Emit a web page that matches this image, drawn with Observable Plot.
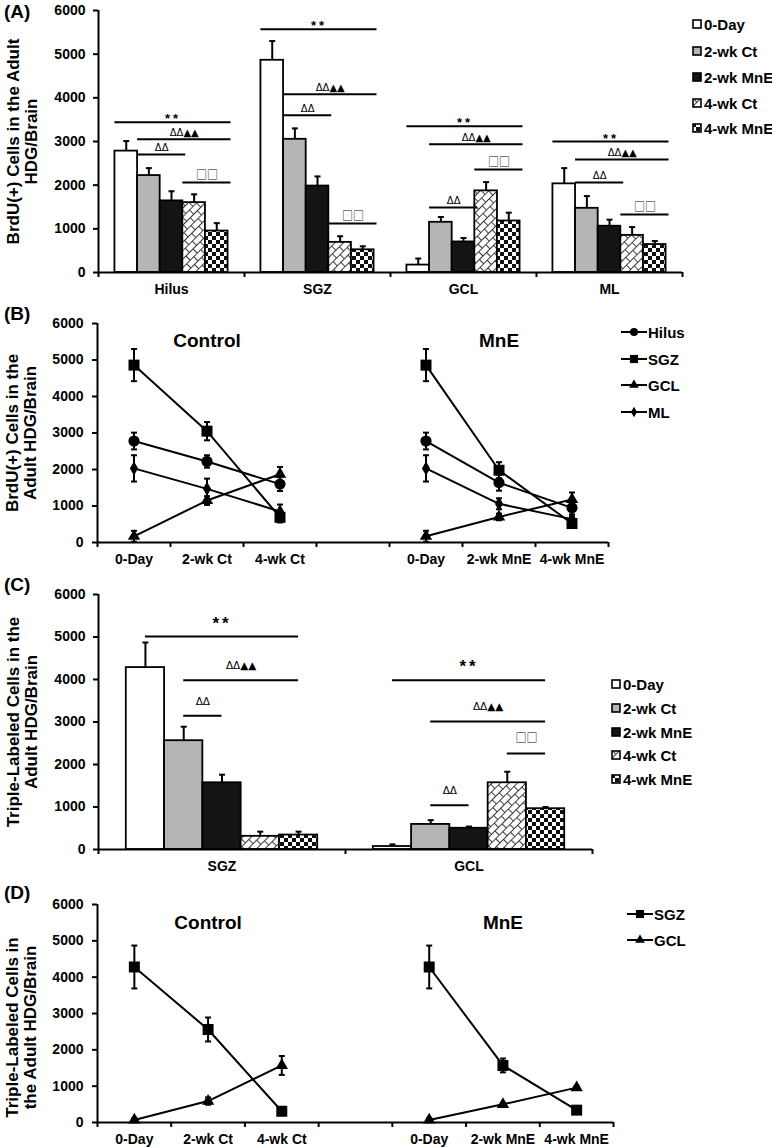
<!DOCTYPE html>
<html><head><meta charset="utf-8">
<script src="https://cdn.jsdelivr.net/npm/d3@7"></script>
<script src="https://cdn.jsdelivr.net/npm/@observablehq/plot@0.6"></script>
<style>
body{margin:0;background:#fff;}
#root{position:relative;width:772px;height:1148px;overflow:hidden;font-family:"Liberation Sans",Arial,sans-serif;font-weight:bold;color:#000;}
.panel{position:absolute;left:0;}
.plabel{position:absolute;left:4px;font-size:19px;line-height:20px;}
.litem{position:absolute;display:flex;align-items:center;white-space:nowrap;height:18px;font-size:15px;}
.litem svg{display:block;}
</style></head><body>
<svg width="0" height="0" style="position:absolute">
<defs>
<pattern id="hatch" width="10" height="12" patternUnits="userSpaceOnUse" patternTransform="rotate(-45)">
<rect width="10" height="12" fill="#fff"/>
<path d="M0,0.5H10M0,6.5H10M0.5,0.5V6.5M5.5,6.5V12.5" stroke="#3a3a3a" stroke-width="1" fill="none"/>
</pattern>
<pattern id="checker" width="8" height="8" patternUnits="userSpaceOnUse">
<rect width="8" height="8" fill="#fff"/><rect width="4" height="4" fill="#111"/><rect x="4" y="4" width="4" height="4" fill="#111"/>
</pattern>
</defs></svg>
<div id="root"></div>
<script>
// ---------- data ----------
const regionsA = ["Hilus", "SGZ", "GCL", "ML"];
const regionsC = ["SGZ", "GCL"];
const conditions = ["0-Day", "2-wk Ct", "2-wk MnE", "4-wk Ct", "4-wk MnE"];
const lineLabels = ["0-Day", "2-wk Ct", "4-wk Ct", "", "0-Day", "2-wk MnE", "4-wk MnE"];
const armNames = ["Control", "MnE"];
const controlIdx = [0, 1, 3];
const mneIdx = [0, 2, 4];
const yTicks = [0, 1000, 2000, 3000, 4000, 5000, 6000];

// BrdU(+) cells (panels A, B)
const hilusMean = [2780, 2220, 1640, 1600, 950];
const hilusSem  = [230, 170, 220, 190, 180];
const sgzMean   = [4860, 3050, 1980, 690, 520];
const sgzSem    = [440, 250, 220, 140, 80];
const gclMean   = [170, 1150, 700, 1870, 1180];
const gclSem    = [150, 120, 90, 200, 190];
const mlMean    = [2030, 1470, 1060, 850, 640];
const mlSem     = [360, 280, 150, 190, 80];

// Triple-labeled cells (panels C, D)
const tripleSgzMean = [4280, 2560, 1570, 310, 340];
const tripleSgzSem  = [590, 330, 190, 110, 80];
const tripleGclMean = [70, 590, 500, 1570, 960];
const tripleGclSem  = [50, 100, 40, 260, 40];

// significance brackets: region, from condition, to condition, level, label
const sigA = [
  ["Hilus", 0, 4, 3440, "**"], ["Hilus", 1, 4, 3050, "ΔΔ▲▲"], ["Hilus", 1, 2, 2700, "ΔΔ"], ["Hilus", 3, 4, 2060, "□□"],
  ["SGZ", 0, 4, 5570, "**"], ["SGZ", 1, 4, 4080, "ΔΔ▲▲"], ["SGZ", 1, 2, 3600, "ΔΔ"], ["SGZ", 3, 4, 1120, "□□"],
  ["GCL", 0, 4, 3350, "**"], ["GCL", 1, 4, 2935, "ΔΔ▲▲"], ["GCL", 3, 4, 2360, "□□"], ["GCL", 1, 2, 1490, "ΔΔ"],
  ["ML", 0, 4, 3000, "**"], ["ML", 1, 4, 2590, "ΔΔ▲▲"], ["ML", 1, 2, 2060, "ΔΔ"], ["ML", 3, 4, 1330, "□□"]
];
const sigC = [
  ["SGZ", 0, 4, 5010, "**"], ["SGZ", 1, 4, 3980, "ΔΔ▲▲"], ["SGZ", 1, 2, 3150, "ΔΔ"],
  ["GCL", 0, 4, 3980, "**"], ["GCL", 1, 4, 3010, "ΔΔ▲▲"], ["GCL", 3, 4, 2260, "□□"], ["GCL", 1, 2, 1040, "ΔΔ"]
];

const titleA = "BrdU(+) Cells in the Adult\nHDG/Brain";
const titleB = "BrdU(+) Cells in the\nAdult HDG/Brain";
const titleC = "Triple-Labeled Cells in the\nAdult HDG/Brain";
const titleD = "Triple-Labeled Cells in\nthe Adult HDG/Brain";

// ---------- styles ----------
const barFills = ["#ffffff", "#b5b5b5", "#141414", "url(#hatch)", "url(#checker)"];
const FONT = '"Liberation Sans", Arial, sans-serif';
const BOXFONT = '"Noto Sans CJK SC", "DejaVu Sans", sans-serif';
const BW = 0.155;
const capSymbol = {draw(ctx, size) { const w = Math.sqrt(size / Math.PI); ctx.moveTo(-w, 0); ctx.lineTo(w, 0); }};
const svgStyle = {background: "transparent", overflow: "visible", fontFamily: FONT, fontWeight: "bold", color: "#000"};

function barPlot(o) {
  const n = conditions.length;
  const left = (g, j) => g + (1 - n * BW) / 2 + j * BW;
  const rows = [];
  o.regions.forEach((reg, g) => conditions.forEach((c, j) => {
    const x1 = left(g, j);
    rows.push({cond: c, x1, x2: x1 + BW, xc: x1 + BW / 2, mean: o.means[g][j], sem: o.sems[g][j]});
  }));
  const sig = o.sig.map(([reg, a, b, level, label]) => {
    const g = o.regions.indexOf(reg);
    const x1 = o.edge ? left(g, a) : left(g, a) + BW / 2;
    const x2 = o.edge ? left(g, b) + BW + 0.02 : left(g, b) + BW / 2;
    return {label, level, x1, x2, xm: (x1 + x2) / 2, kind: label === "**" ? "star" : label === "□□" ? "box" : "delta"};
  });
  return Plot.plot({
    width: 772, height: o.height,
    marginLeft: o.ml, marginRight: o.mr, marginTop: o.mt, marginBottom: o.mb,
    style: svgStyle,
    x: {domain: [0, o.regions.length]},
    y: {domain: [0, 6000]},
    color: {domain: conditions, range: barFills},
    marks: [
      Plot.rect(rows, {x1: "x1", x2: "x2", y1: 0, y2: "mean", fill: "cond", stroke: "#000", strokeWidth: 1.8}),
      Plot.ruleX(rows, {x: "xc", y1: "mean", y2: d => d.mean + d.sem, strokeWidth: 2}),
      Plot.dot(rows, {x: "xc", y: d => d.mean + d.sem, symbol: capSymbol, r: 3, stroke: "#000", fill: "none", strokeWidth: 2}),
      Plot.ruleY(sig, {y: "level", x1: "x1", x2: "x2", strokeWidth: 2}),
      Plot.text(sig.filter(d => d.kind === "star"), {x: "xm", y: "level", text: "label", dy: o.starDy, fontSize: o.starSize}),
      Plot.text(sig.filter(d => d.kind === "delta"), {x: "xm", y: "level", text: "label", dy: o.symDy, fontSize: o.symSize, fontFamily: "DejaVu Sans", fontWeight: "normal"}),
      Plot.text(sig.filter(d => d.kind === "box"), {x: "xm", y: "level", text: "label", dy: o.symDy, fontSize: o.boxSize, fontFamily: BOXFONT, fontWeight: "normal", fill: "#000"}),
      Plot.ruleY([0], {strokeWidth: 2}),
      Plot.ruleX([0], {strokeWidth: 2}),
      Plot.axisY({ticks: yTicks, tickFormat: d => String(d), tickSize: 5, tickPadding: 8, strokeWidth: 2, fontSize: 14, label: null}),
      Plot.axisX({ticks: d3.range(o.regions.length + 1), tickFormat: () => "", tickSize: 5, strokeWidth: 2, label: null}),
      Plot.axisX({ticks: o.regions.map((_, i) => i + 0.5), tickFormat: d => o.regions[Math.floor(d)], tickSize: 0, tickPadding: 12, fontSize: 14, label: null}),
      Plot.text([o.title], {frameAnchor: "left", textAnchor: "middle", dx: -76, dy: o.titleDy || 0, rotate: -90, fontSize: 17, lineHeight: 1.06})
    ]
  });
}

function linePlot(o) {
  const rows = [];
  const arms = [controlIdx, mneIdx];
  o.regions.forEach((reg, r) => arms.forEach((idx, a) => idx.forEach((j, k) => {
    rows.push({region: reg, arm: a, pos: a * (controlIdx.length + 1) + k, mean: o.means[r][j], sem: o.sems[r][j]});
  })));
  const dotMarks = o.regions.map((reg, r) =>
    Plot.dot(rows.filter(d => d.region === reg), {x: "pos", y: "mean", symbol: o.symbols[r], r: o.sizes[r], fill: "#000", stroke: "none"}));
  return Plot.plot({
    width: 772, height: o.height,
    marginLeft: o.ml, marginRight: o.mr, marginTop: o.mt, marginBottom: o.mb,
    style: svgStyle,
    x: {domain: [-0.5, lineLabels.length - 0.5]},
    y: {domain: [0, 6000]},
    marks: [
      Plot.line(rows, {x: "pos", y: "mean", z: d => d.region + "-" + d.arm, stroke: "#000", strokeWidth: 2}),
      Plot.ruleX(rows, {x: "pos", y1: d => d.mean - d.sem, y2: d => d.mean + d.sem, strokeWidth: 2}),
      Plot.dot(rows, {x: "pos", y: d => d.mean + d.sem, symbol: capSymbol, r: 3, stroke: "#000", fill: "none", strokeWidth: 2}),
      Plot.dot(rows, {x: "pos", y: d => d.mean - d.sem, symbol: capSymbol, r: 3, stroke: "#000", fill: "none", strokeWidth: 2}),
      ...dotMarks,
      Plot.ruleY([0], {strokeWidth: 2}),
      Plot.ruleX([-0.5], {strokeWidth: 2}),
      Plot.axisY({ticks: yTicks, tickFormat: d => String(d), tickSize: 5, tickPadding: 9, strokeWidth: 2, fontSize: 14, label: null}),
      Plot.axisX({ticks: d3.range(lineLabels.length + 1).map(i => i - 0.5), tickFormat: () => "", tickSize: 5, strokeWidth: 2, label: null}),
      Plot.axisX({ticks: lineLabels.map((_, i) => i), tickFormat: i => lineLabels[i], tickSize: 0, tickPadding: 12, fontSize: 14, label: null}),
      Plot.text(armNames, {x: (d, i) => i * (controlIdx.length + 1) + 1, frameAnchor: "top", dy: o.armDy, fontSize: 19, text: d => d}),
      Plot.text([o.title], {frameAnchor: "left", textAnchor: "middle", dx: -76, dy: o.titleDy || 0, rotate: -90, fontSize: 17, lineHeight: 1.06})
    ]
  });
}

const root = document.getElementById("root");
function addPanel(top, svg) {
  const div = document.createElement("div");
  div.className = "panel";
  div.style.top = top + "px";
  div.appendChild(svg);
  root.appendChild(div);
  d3.select(svg).selectAll("text").filter(function() { return this.textContent === "**"; })
    .style("letter-spacing", "3px");
}
function addLabel(text, top) {
  const d = document.createElement("div");
  d.className = "plabel"; d.style.top = top + "px"; d.textContent = text;
  root.appendChild(d);
}
function barLegend(left, ys) {
  conditions.forEach((c, i) => {
    const it = d3.select(root).append("div").attr("class", "litem")
      .style("left", left + "px").style("top", (ys[i] - 9) + "px");
    const s = it.append("svg").attr("width", 11).attr("height", 10);
    s.append("rect").attr("x", 1).attr("y", 1).attr("width", 8).attr("height", 8)
      .attr("fill", barFills[i]).attr("stroke", "#000").attr("stroke-width", 1.6);
    it.append("span").style("margin-left", "1px").text(c);
  });
}
const symbolTypes = {circle: d3.symbolCircle, square: d3.symbolSquare, triangle: d3.symbolTriangle, diamond: d3.symbolDiamond};
function lineLegend(left, ys, names, symbols, sizes) {
  names.forEach((nm, i) => {
    const it = d3.select(root).append("div").attr("class", "litem")
      .style("left", left + "px").style("top", (ys[i] - 9) + "px");
    const s = it.append("svg").attr("width", 27).attr("height", 14);
    s.append("line").attr("x1", 0).attr("x2", 26).attr("y1", 7).attr("y2", 7).attr("stroke", "#000").attr("stroke-width", 2);
    s.append("path").attr("transform", "translate(13,7)")
      .attr("d", d3.symbol(symbolTypes[symbols[i]], Math.PI * sizes[i] * sizes[i])()).attr("fill", "#000");
    it.append("span").text(nm);
  });
}

const brduMeans = [hilusMean, sgzMean, gclMean, mlMean];
const brduSems = [hilusSem, sgzSem, gclSem, mlSem];
const tripleMeans = [tripleSgzMean, tripleGclMean];
const tripleSems = [tripleSgzSem, tripleGclSem];
const symbolsA = ["circle", "square", "triangle", "diamond"];
const sizesA = [5.6, 6.2, 4.6, 4.3];

addPanel(0, barPlot({regions: regionsA, means: brduMeans, sems: brduSems, sig: sigA, edge: true,
  height: 300, ml: 98, mr: 90, mt: 10, mb: 28, title: titleA,
  starDy: -3, starSize: 13, symDy: -7, symSize: 10, boxSize: 11}));
addPanel(290, linePlot({regions: regionsA, means: brduMeans, sems: brduSems, symbols: symbolsA, sizes: sizesA,
  height: 270, ml: 97, mr: 164, mt: 33, mb: 18, title: titleB, armDy: 10}));
addPanel(570, barPlot({regions: regionsC, means: tripleMeans, sems: tripleSems, sig: sigC, edge: false,
  height: 300, ml: 98, mr: 180, mt: 24, mb: 21, title: titleC,
  starDy: -13.5, starSize: 17, symDy: -14.5, symSize: 10.5, boxSize: 11}));
addPanel(870, linePlot({regions: regionsC, means: tripleMeans, sems: tripleSems, symbols: ["square", "triangle"], sizes: [6.2, 4.6],
  height: 278, ml: 97, mr: 159, mt: 34, mb: 26, title: titleD, armDy: 11, titleDy: 14}));

addLabel("(A)", 2);
addLabel("(B)", 304);
addLabel("(C)", 575);
addLabel("(D)", 883);

barLegend(692, [24, 51, 77, 103, 128]);
lineLegend(621, [332, 359, 385, 412], regionsA, symbolsA, [4, 4.6, 3.6, 3.2]);
barLegend(611, [684, 708, 732, 755, 779]);
lineLegend(627, [914, 940], regionsC, ["square", "triangle"], [4.6, 3.6]);
</script>
</body></html>
